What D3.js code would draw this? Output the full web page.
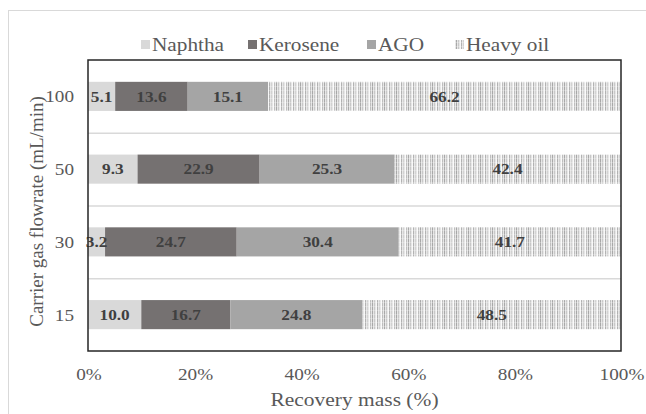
<!DOCTYPE html>
<html><head><meta charset="utf-8">
<script src="https://cdn.jsdelivr.net/npm/d3@7"></script>
<style>body{margin:0;background:#fff}svg{display:block}text{font-family:"Liberation Serif","Times New Roman",serif}</style>
</head><body>
<script>
const categories = ["100","50","30","15"];
const seriesNames = ["Naphtha","Kerosene","AGO","Heavy oil"];
const naphtha = [5.1, 9.3, 3.2, 10.0];
const kerosene = [13.6, 22.9, 24.7, 16.7];
const ago = [15.1, 25.3, 30.4, 24.8];
const heavyOil = [66.2, 42.4, 41.7, 48.5];
const xTicks = [0,20,40,60,80,100];

const W = 646, H = 414;
const m = {l:88, r:W-621, t:60, b:H-351};
const font = '"Liberation Serif","Times New Roman",serif';
const svg = d3.select("body").append("svg").attr("width",W).attr("height",H);
const defs = svg.append("defs");
const pat = defs.append("pattern").attr("id","hv").attr("patternUnits","userSpaceOnUse")
  .attr("width",12).attr("height",4);
pat.append("rect").attr("width",12).attr("height",4).attr("fill","#e6e6e6");
[[0,1,"#a8a8a8"],[2,1,"#c8c8c8"],[4,1,"#f8f8f8"],[5,1,"#b2b2b2"],[7,1,"#d2d2d2"],[9,1,"#fafafa"],[10,1,"#bebebe"]].forEach(([x,w,c])=>{
  pat.append("rect").attr("x",x).attr("width",w).attr("height",4).attr("fill",c);
});
pat.append("rect").attr("x",0).attr("y",2).attr("width",12).attr("height",1).attr("fill","#ffffff").attr("opacity",0.25);

// outer frame
svg.append("rect").attr("x",8.5).attr("y",10.5).attr("width",W).attr("height",H).attr("fill","none").attr("stroke","#d9d9d9");

const x = d3.scaleLinear().domain([0,100]).range([m.l, W-m.r]);
const y = d3.scaleBand().domain(categories).range([m.t, H-m.b]).paddingInner(0.6).paddingOuter(0.3);
const yb = d3.scaleBand().domain(categories).range([m.t, H-m.b]);

// helper: horizontally stretched text
function sText(parent, tx, ty, str, size, opts={}) {
  const gg = parent.append("g").attr("transform",`translate(${tx},${ty}) scale(${opts.sx||1.13},1)`);
  return gg.append("text").attr("x",0).attr("y",0).attr("dy","0.35em")
    .attr("text-anchor",opts.anchor||"middle").style("font-family",font)
    .attr("font-size",size).attr("font-weight",opts.bold?"bold":"normal")
    .attr("fill",opts.fill||"#595959").text(str);
}

// gridlines at band boundaries
const g = svg.append("g");
categories.slice(1).forEach(c=>{
  g.append("line").attr("x1",m.l).attr("x2",W-m.r).attr("y1",yb(c)+0.5).attr("y2",yb(c)+0.5)
   .attr("stroke","#d9d9d9").attr("stroke-width",1.5);
});

const colors = ["#d9d9d9","#757171","#a5a5a5","url(#hv)"];
const data = categories.map((c,i)=>({cat:c, vals:[naphtha[i],kerosene[i],ago[i],heavyOil[i]]}));
const stack = d3.stack().keys([0,1,2,3]).value((d,k)=>d.vals[k])(data);

stack.forEach((s,k)=>{
  svg.append("g").selectAll("rect").data(s).join("rect")
    .attr("x",d=>x(d[0])).attr("width",d=>x(d[1])-x(d[0]))
    .attr("y",d=>y(d.data.cat)).attr("height",y.bandwidth())
    .attr("fill",colors[k]);
});
const lg = svg.append("g");
stack.forEach((s,k)=>{
  s.forEach(d=>{
    sText(lg,(x(d[0])+x(d[1]))/2, y(d.data.cat)+y.bandwidth()/2, d.data.vals[k].toFixed(1), 15,
      {bold:true, fill:"#404040", sx:1.15});
  });
});

// plot border
svg.append("rect").attr("x",m.l).attr("y",m.t).attr("width",W-m.r-m.l).attr("height",H-m.b-m.t)
  .attr("fill","none").attr("stroke","#262626").attr("stroke-width",1.5);

// x axis (ticks from scale)
const xa = svg.append("g");
xTicks.forEach(t=> sText(xa, x(t)+1, 374, t+"%", 17));
// y axis
const ya = svg.append("g");
categories.forEach(c=> sText(ya, m.l-14, yb(c)+yb.bandwidth()/2, c, 17, {anchor:"end"}));

sText(svg, (m.l+W-m.r)/2, 399, "Recovery mass (%)", 19);
svg.append("text").attr("transform",`translate(43,${(m.t+H-m.b)/2+6}) rotate(-90)`).attr("text-anchor","middle")
  .style("font-family",font).attr("font-size",19).attr("fill","#595959").text("Carrier gas flowrate (mL/min)");

// legend
const leg = svg.append("g");
const lx = [141,248,367,455];
seriesNames.forEach((n,i)=>{
  leg.append("rect").attr("x",lx[i]).attr("y",40).attr("width",9).attr("height",9).attr("fill",colors[i]);
  sText(leg, lx[i]+11, 44, n, 19, {anchor:"start", sx:1.12});
});
</script>
</body></html>
